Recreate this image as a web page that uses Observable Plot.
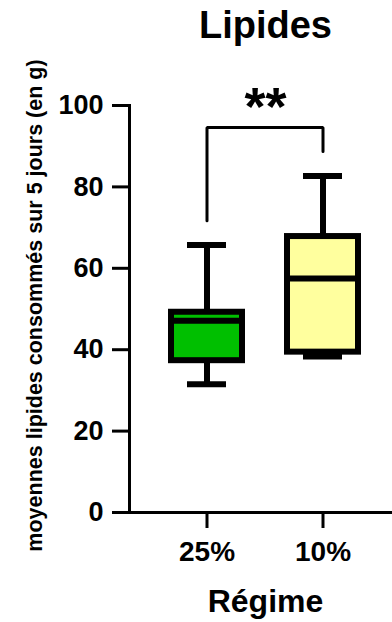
<!DOCTYPE html>
<html>
<head>
<meta charset="utf-8">
<script src="https://cdn.jsdelivr.net/npm/d3@7"></script>
<script src="https://cdn.jsdelivr.net/npm/@observablehq/plot@0.6"></script>
<style>
  html, body { margin: 0; padding: 0; background: #fff; }
</style>
</head>
<body>
<div id="chart"></div>
<script>
const categories = ["25%", "10%"];
const minima = [31.5, 38.3];
const q1 = [37.3, 39.4];
const medians = [47.1, 57.5];
const q3 = [49.2, 67.8];
const maxima = [65.7, 82.7];
const fills = ["#00BF00", "#FFFF9E"];
const yTicks = [0, 20, 40, 60, 80, 100];
const bracketX = ["25%", "25%", "10%", "10%"];
const bracketY = [71.7, 94.6, 94.6, 88.7];
const title = "Lipides";
const significance = "**";
const xLabel = "Régime";
const yLabel = "moyennes lipides consommés sur 5 jours (en g)";

const boxes = categories.map((c, i) => ({
  cat: c, min: minima[i], q1: q1[i], median: medians[i], q3: q3[i], max: maxima[i], fill: fills[i]
}));
const bracket = bracketX.map((x, i) => ({x, y: bracketY[i]}));

const chart = Plot.plot({
  width: 392,
  height: 622,
  marginTop: 105,
  marginBottom: 110,
  marginLeft: 129,
  marginRight: 0,
  style: {fontFamily: "'Liberation Sans', Arial, sans-serif", fontWeight: "bold", background: "#fff", color: "#000"},
  x: {type: "band", domain: categories, range: [148, 380], paddingInner: 0.388, paddingOuter: 0.194, align: 0.5},
  y: {domain: [0, 100]},
  marks: [
    // whiskers
    Plot.ruleX(boxes, {x: "cat", y1: "min", y2: "q1", stroke: "#000", strokeWidth: 6}),
    Plot.ruleX(boxes, {x: "cat", y1: "q3", y2: "max", stroke: "#000", strokeWidth: 6}),
    // caps
    Plot.tickY(boxes, {x: "cat", y: "min", stroke: "#000", strokeWidth: 6, insetLeft: 16, insetRight: 16}),
    Plot.tickY(boxes, {x: "cat", y: "max", stroke: "#000", strokeWidth: 6, insetLeft: 16, insetRight: 16}),
    // boxes
    Plot.barY(boxes, {x: "cat", y1: "q1", y2: "q3", fill: "fill", stroke: "#000", strokeWidth: 6}),
    // medians
    Plot.tickY(boxes, {x: "cat", y: "median", stroke: "#000", strokeWidth: 6}),
    // significance bracket
    Plot.line(bracket, {x: "x", y: "y", stroke: "#000", strokeWidth: 3, strokeLinejoin: "miter"}),
    Plot.text([significance], {text: d => d, frameAnchor: "top", dx: 4.5, dy: 19, fontSize: 54, lineAnchor: "bottom"}),
    // axes
    Plot.axisY({ticks: yTicks, tickSize: 17, tickPadding: 9, fontSize: 27, strokeWidth: 3, label: null, tickFormat: d => d}),
    Plot.axisX({tickSize: 16, tickPadding: 13, fontSize: 28, strokeWidth: 3, label: null}),
    Plot.ruleY([0], {stroke: "#000", strokeWidth: 3}),
    Plot.frame({anchor: "left", stroke: "#000", strokeWidth: 3}),
    // titles
    Plot.text([title], {text: d => d, frameAnchor: "top", dx: 4.5, dy: -68, fontSize: 38, lineAnchor: "bottom"}),
    Plot.text([xLabel], {text: d => d, frameAnchor: "bottom", dx: 4.5, dy: 99, fontSize: 32, lineAnchor: "bottom"}),
    Plot.text([yLabel], {text: d => d, frameAnchor: "left", textAnchor: "middle", rotate: -90, dx: -88, dy: -3.5, fontSize: 21.5, lineAnchor: "bottom"})
  ]
});
document.getElementById("chart").appendChild(chart);
</script>
</body>
</html>
